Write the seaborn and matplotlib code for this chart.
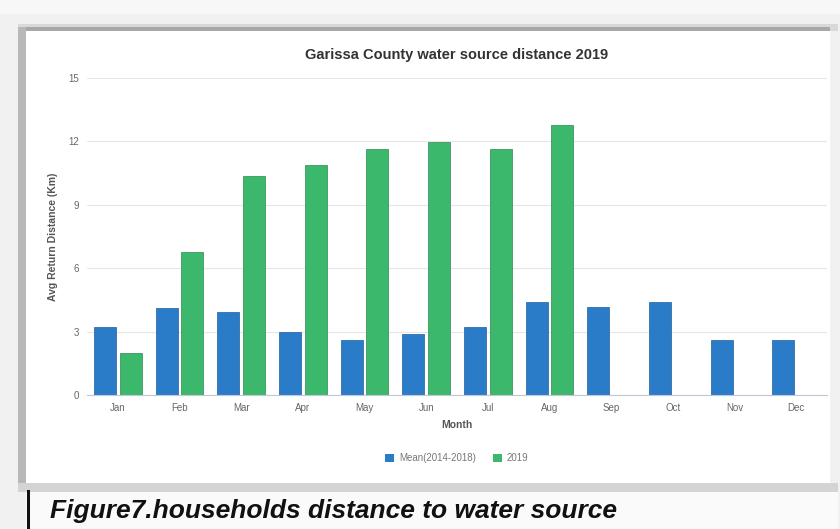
import pandas as pd
import numpy as np
import matplotlib
matplotlib.use('Agg')
import matplotlib.pyplot as plt
from matplotlib.patches import Rectangle, Patch
import seaborn as sns

# chart values
months = ['Jan', 'Feb', 'Mar', 'Apr', 'May', 'Jun', 'Jul', 'Aug', 'Sep', 'Oct', 'Nov', 'Dec']
mean_2014_2018 = [3.22, 4.1, 3.93, 2.98, 2.6, 2.89, 3.22, 4.42, 4.17, 4.42, 2.6, 2.6]
year_2019 = [1.99, 6.77, 10.37, 10.86, 11.65, 11.98, 11.65, 12.76, np.nan, np.nan, np.nan, np.nan]
series_names = ['Mean(2014-2018)', '2019']
y_ticks = [0, 3, 6, 9, 12, 15]

df = pd.DataFrame({
    'Month': months * 2,
    'Distance': mean_2014_2018 + year_2019,
    'Series': [series_names[0]] * 12 + [series_names[1]] * 12,
})

sns.set_theme(style='white')
plt.rcParams['font.family'] = ['Liberation Sans', 'DejaVu Sans']

W, H = 840, 529
fig = plt.figure(figsize=(W / 100, H / 100), dpi=100)
fig.patch.set_facecolor('#f1f1f1')

def px_rect(x0, y0, x1, y1, color):
    fig.patches.append(Rectangle((x0 / W, 1 - y1 / H), (x1 - x0) / W, (y1 - y0) / H,
                                 transform=fig.transFigure, facecolor=color,
                                 edgecolor='none', zorder=-5))

# screenshot frame
px_rect(0, 0, W, 14, '#f7f7f7')
px_rect(18, 24, 838, 31, '#d9d9d9')
px_rect(22, 27, 830, 31, '#a8a8a8')
px_rect(18, 27, 26, 486, '#b8b8b8')
px_rect(26, 31, 830, 483, '#ffffff')
px_rect(18, 483, 838, 492, '#d4d4d4')
px_rect(26, 492, 838, H, '#fafafa')
px_rect(27, 490, 30, H, '#111111')

ax = fig.add_axes([87 / W, 1 - 395 / H, (827 - 87) / W, (395 - 78) / H])
ax.set_zorder(5)
ax.set_facecolor('white')

palette = {series_names[0]: '#2a7cc9', series_names[1]: '#3bb86c'}
sns.barplot(data=df, x='Month', y='Distance', hue='Series', order=months,
            hue_order=series_names, palette=palette, width=0.84, gap=0.15,
            saturation=1, edgecolor='#1d5f9a', linewidth=0.5, ax=ax, legend=False)
for p in ax.patches[12:]:
    p.set_edgecolor('#2a8a50')

ax.set_ylim(0, 15)
ax.set_yticks(y_ticks)
ax.set_xlim(-0.5, 11.5)
ax.grid(axis='y', color='#e6e6e6', linewidth=0.8)
ax.set_axisbelow(True)
for s in ['top', 'right', 'left']:
    ax.spines[s].set_visible(False)
ax.spines['bottom'].set_color('#c0c8d8')
ax.spines['bottom'].set_linewidth(0.8)
ax.tick_params(axis='both', length=0, labelsize=7, labelcolor='#666666', pad=6)

ax.set_title('Garissa County water source distance 2019', fontsize=10.5,
             fontweight='bold', color='#333333', pad=14)
ax.set_ylabel('Avg Return Distance (Km)', fontsize=7.5, fontweight='bold',
              color='#555555', labelpad=7)
ax.set_xlabel('Month', fontsize=7.5, fontweight='bold', color='#555555', labelpad=5)

handles = [Patch(facecolor=palette[n], edgecolor='none') for n in series_names]
fig.legend(handles, series_names, loc='center', bbox_to_anchor=(457 / W, 1 - 458 / H),
           ncol=2, frameon=False, fontsize=7, labelcolor='#777777',
           handlelength=0.9, handleheight=0.9, columnspacing=1.8, handletextpad=0.5)

fig.text(50 / W, 1 - 511 / H, 'Figure7.households distance to water source',
         fontsize=19, fontweight='bold', fontstyle='italic', color='#111111',
         va='center', ha='left')

fig.savefig('out.png', dpi=100, facecolor=fig.get_facecolor())
